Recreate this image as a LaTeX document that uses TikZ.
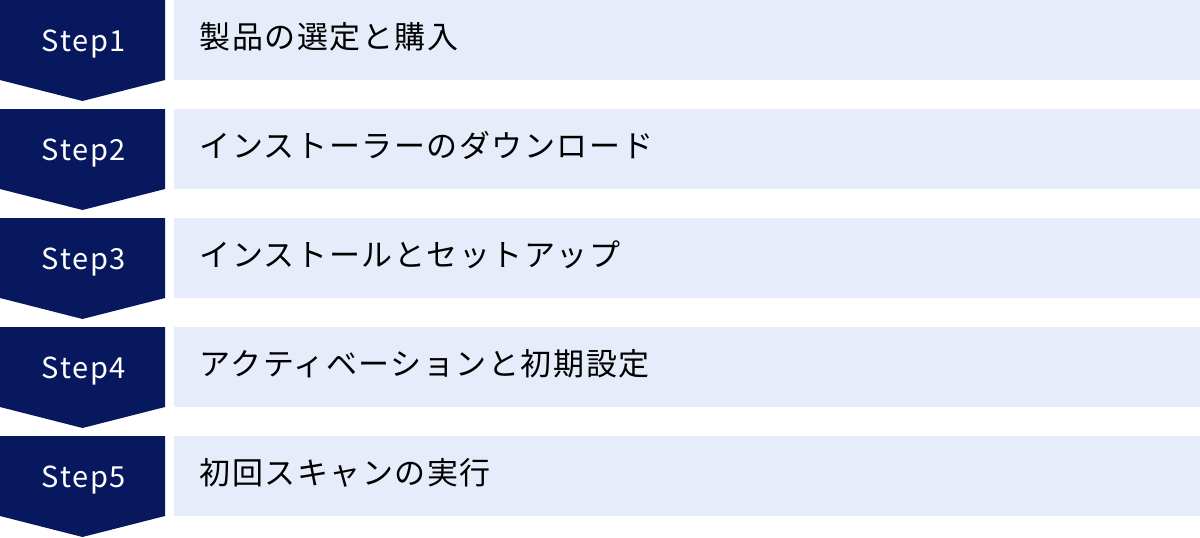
\documentclass[tikz,border=0pt]{standalone}
\usepackage{fontspec}
\usepackage{xcolor}
\setmainfont{Noto Sans CJK JP}
\newfontfamily\stepfont[LetterSpace=6]{Noto Sans CJK JP}
\newfontfamily\itemfont[LetterSpace=5]{Noto Sans CJK JP}
\definecolor{navy}{RGB}{8,24,94}
\definecolor{paleblue}{RGB}{230,236,249}

\begin{document}
\begin{tikzpicture}[x=1pt,y=-1pt,
  steptext/.style={text=white,anchor=base,font=\stepfont\fontsize{29}{31}\selectfont},
  itemtext/.style={text=black,anchor=base west,font=\itemfont\fontsize{31}{33}\selectfont}]
\useasboundingbox (0,0) rectangle (1200,538);
\foreach \i/\txt in {1/製品の選定と購入,2/インストーラーのダウンロード,3/インストールとセットアップ,4/アクティベーションと初期設定,5/初回スキャンの実行}{
  \pgfmathsetmacro{\rowtop}{(\i-1)*109}
  \fill[navy] (0,\rowtop) -- (165,\rowtop) -- (165,\rowtop+80) -- (82.5,\rowtop+101) -- (0,\rowtop+80) -- cycle;
  \fill[paleblue] (174,\rowtop) rectangle (1200,\rowtop+80);
  \node[steptext] (step\i) at (84,\rowtop+51) {Step\i};
  \node[itemtext] (item\i) at (196,\rowtop+48) {\txt};
}
\end{tikzpicture}
\end{document}
